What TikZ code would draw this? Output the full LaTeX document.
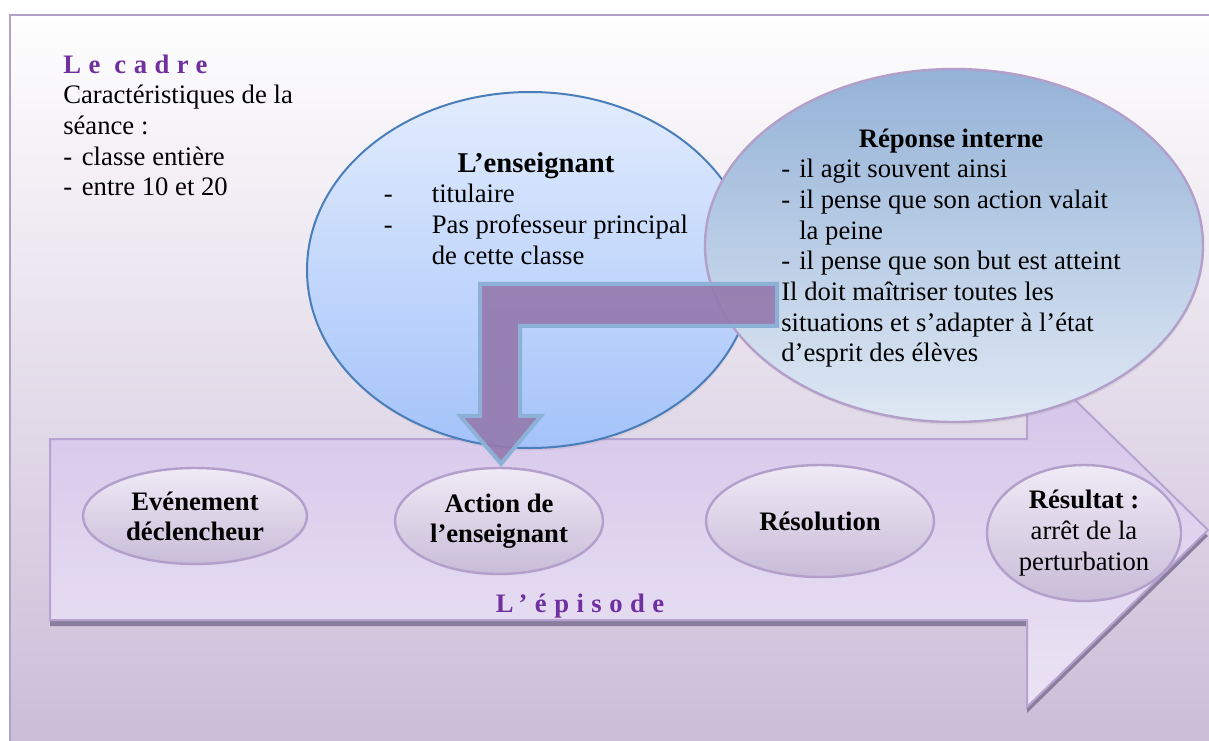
\documentclass[tikz,border=0pt]{standalone}
\usepackage{fontspec}
\setmainfont{Liberation Serif}
\usepackage{xcolor}
\usetikzlibrary{shapes.geometric,calc,shadows}

\definecolor{framec}{HTML}{B3A2C7}
\definecolor{bgtop}{HTML}{FEFEFE}
\definecolor{bgbot}{HTML}{CBBCD7}
\definecolor{arrtop}{HTML}{D3C2E9}
\definecolor{arrbot}{HTML}{EBE4F4}
\definecolor{arrdraw}{HTML}{B7A3D2}
\definecolor{shadowc}{HTML}{8A7E9D}
\definecolor{smtop}{HTML}{F0EAF6}
\definecolor{smbot}{HTML}{C8BCD8}
\definecolor{smdraw}{HTML}{B39FCC}
\definecolor{enstop}{HTML}{E2ECFD}
\definecolor{ensbot}{HTML}{A4C3FA}
\definecolor{ensdraw}{HTML}{4A7EBB}
\definecolor{reptop}{HTML}{94B2D7}
\definecolor{repbot}{HTML}{DFE8F4}
\definecolor{repdraw}{HTML}{B39FCA}
\definecolor{bendfill}{HTML}{9479AD}
\definecolor{benddraw}{HTML}{8DB0D6}
\definecolor{titlec}{HTML}{7030A0}

\begin{document}
\begin{tikzpicture}[
    x=0.75pt, y=-0.75pt,
    txt/.style={inner sep=0pt, font=\fontsize{20}{23}\selectfont},
    spaced/.style={inner sep=0pt, text=titlec,
                   font=\fontsize{20}{23}\selectfont\bfseries\addfontfeature{LetterSpace=28}},
    stage/.style={ellipse, draw=smdraw, line width=1.8pt, top color=smtop, bottom color=smbot,
                  inner sep=0pt, align=center, font=\fontsize{20}{22.5}\selectfont\bfseries},
    bigcloud/.style={ellipse, inner sep=0pt,
                     drop shadow={opacity=0.12, shadow xshift=0.6pt, shadow yshift=-2pt}},
    bendarrow/.style={draw=benddraw, line width=3pt, fill=bendfill, fill opacity=0.9}]
  \useasboundingbox (0,0) rectangle (1209,740);
  % frame
  \fill[white] (0,0) rectangle (1209,740);
  \draw[framec, line width=2.2pt, top color=bgtop, bottom color=bgbot] (10,15) rectangle (1216,748);
  % the episode arrow
  \fill[shadowc, shift={(0,6)}] (50,439) -- (1027,439) -- (1027,353) -- (1208,530)
    -- (1027,707) -- (1027,620) -- (50,620) -- cycle;
  \draw[arrdraw, line width=1.5pt, top color=arrtop, bottom color=arrbot]
    (50,439) -- (1027,439) -- (1027,353) -- (1208,530) -- (1027,707) -- (1027,620)
    -- (50,620) -- cycle;
  \node[spaced, anchor=base] (episode) at (580,612) {L’épisode};
  % stages
  \node[stage, minimum width=168pt, minimum height=72pt] (ev) at (195,516) {Evénement\\déclencheur};
  \node[stage, minimum width=156pt, minimum height=79.5pt] (act) at (499,521) {Action de\\l’enseignant};
  \node[stage, minimum width=171pt, minimum height=84pt] (res) at (820,521) {Résolution};
  \node[stage, minimum width=145.5pt, minimum height=102pt, font=\fontsize{20}{23.2}\selectfont]
    (out) at (1084,533) {\textbf{Résultat :}\\arrêt de la\\perturbation};
  % the two clouds
  \node[bigcloud, draw=ensdraw, line width=1.5pt, top color=enstop, bottom color=ensbot,
        minimum width=334.5pt, minimum height=267pt] (ens) at (530,270) {};
  \node[bigcloud, draw=repdraw, line width=1.8pt, top color=reptop, bottom color=repbot,
        minimum width=373.5pt, minimum height=264.75pt] (rep) at (954,245.5) {};
  % bent arrow from the internal response down to the action
  \coordinate (bendtip) at ($(act.north)+(2,-3)$);
  \draw[bendarrow] (bendtip) -- ++(-41,-48) -- ++(20,0) -- ++(0,-132) -- ++(297,0)
    -- ++(0,42) -- ++(-257,0) -- ++(0,90) -- ++(21,0) -- cycle;
  % texts
  \node[txt, anchor=base west] (cadre) at (63,73) {\begin{tabular}[t]{@{}l@{}}
    {\color{titlec}\bfseries\addfontfeature{LetterSpace=28}Le cadre}\\
    Caractéristiques de la\\
    séance :\\
    \makebox[14pt][l]{-}classe entière\\
    \makebox[14pt][l]{-}entre 10 et 20
  \end{tabular}};
  \node[txt, anchor=base] (enstxt) at (536,172) {\begin{tabular}[t]{@{}l@{}}
    \multicolumn{1}{@{}c@{}}{\fontsize{21.5}{23}\selectfont\bfseries L’enseignant}\\
    \makebox[36pt][l]{-}titulaire\\
    \makebox[36pt][l]{-}Pas professeur principal\\
    \hspace*{36pt}de cette classe
  \end{tabular}};
  \node[txt, anchor=base] (reptxt) at (951,147) {\begin{tabular}[t]{@{}l@{}}
    \multicolumn{1}{@{}c@{}}{\bfseries Réponse interne}\\
    \makebox[13.5pt][l]{-}il agit souvent ainsi\\
    \makebox[13.5pt][l]{-}il pense que son action valait\\
    \hspace*{13.5pt}la peine\\
    \makebox[13.5pt][l]{-}il pense que son but est atteint\\
    Il doit maîtriser toutes les\\
    situations et s’adapter à l’état\\
    d’esprit des élèves
  \end{tabular}};
\end{tikzpicture}
\end{document}
